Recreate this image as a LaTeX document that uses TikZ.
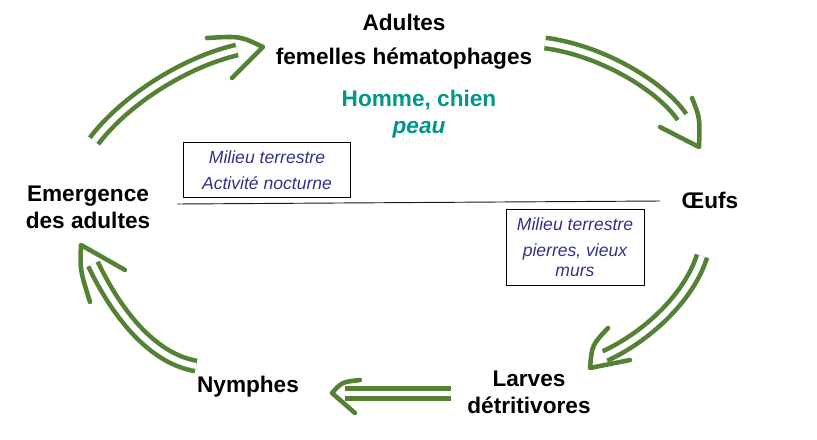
\documentclass[tikz,border=0pt]{standalone}
\usepackage{fontspec}
\setmainfont{Liberation Sans}
\definecolor{leaf}{RGB}{84,130,53}
\definecolor{hostcol}{RGB}{0,150,140}
\definecolor{notecol}{RGB}{48,50,140}
\tikzset{
	x=0.03cm, y=-0.03cm, % one unit = one pixel of the layout
	stage/.style={align=center, inner sep=0pt, font=\fontsize{19.3}{23}\selectfont\bfseries},
	infobox/.style={draw, thin, align=center, inner sep=0pt, text=notecol,
		font=\fontsize{15}{17}\selectfont\itshape},
	shaft/.style={draw=leaf, line width=3.9pt, double=white, double distance=5pt},
	arrowhead/.style={draw=leaf, line width=3.9pt, line cap=round, line join=round},
}
\begin{document}
\begin{tikzpicture}
      \useasboundingbox (0,0) rectangle (817,439);

      \node[stage] (adult) at (404,42) {Adultes\\[6pt]femelles hématophages};
      \node[stage, text=hostcol] (host) at (419,114) {Homme, chien\\\itshape peau};
      \node[stage] (oeuf) at (710,200) {Œufs};
      \node[stage] (larve) at (529,392) {Larves\\détritivores};
      \node[stage] (nymph) at (248,387) {Nymphes};
      \node[stage] (emerg) at (88,207) {Emergence\\des adultes};

      \node[infobox, minimum width=5.01cm, minimum height=1.65cm] (env1) at (267,170)
            {Milieu terrestre\\[5pt]Activité nocturne};
      \node[infobox, minimum width=4.14cm, minimum height=2.28cm] (env2) at (575,247)
            {Milieu terrestre\\[5pt]pierres, vieux\\murs};

      \coordinate (ground-l) at (177,204);
      \coordinate (ground-r) at (660,201);
      \draw[black!90, line width=0.8pt] (ground-l) -- (ground-r);

      % emergence -> adultes
      \coordinate (a1) at (94,141);
      \coordinate (b1) at (237,50);
      \draw[shaft] (a1) .. controls (125,100) and (185,62) .. (b1);
      \draw[arrowhead] (207,38) .. controls (240,36) .. (263,47) -- (232,78);

      % adultes -> oeufs
      \coordinate (a2) at (545,43);
      \coordinate (b2) at (682,117);
      \draw[shaft] (a2) .. controls (600,50) and (660,85) .. (b2);
      \draw[arrowhead] (692,98) .. controls (700,118) .. (699,147) -- (660,127);

      % oeufs -> larves
      \coordinate (a3) at (702,256);
      \coordinate (b3) at (605,356);
      \draw[shaft] (a3) .. controls (690,295) and (650,335) .. (b3);
      \draw[arrowhead] (608,328) .. controls (592,345) .. (590,368) -- (630,360);

      % larves -> nymphes
      \coordinate (a4) at (451,393.5);
      \coordinate (b4) at (345,393.5);
      \draw[shaft] (a4) -- (b4);
      \draw[arrowhead] (360,380) .. controls (342,382) .. (332,393) -- (355,413);

      % nymphes -> emergence
      \coordinate (a5) at (196,366);
      \coordinate (b5) at (93,264);
      \draw[shaft] (a5) .. controls (150,358) and (115,310) .. (b5);
      \draw[arrowhead] (90,302) .. controls (80,270) .. (81,245) -- (125,270);
\end{tikzpicture}
\end{document}
